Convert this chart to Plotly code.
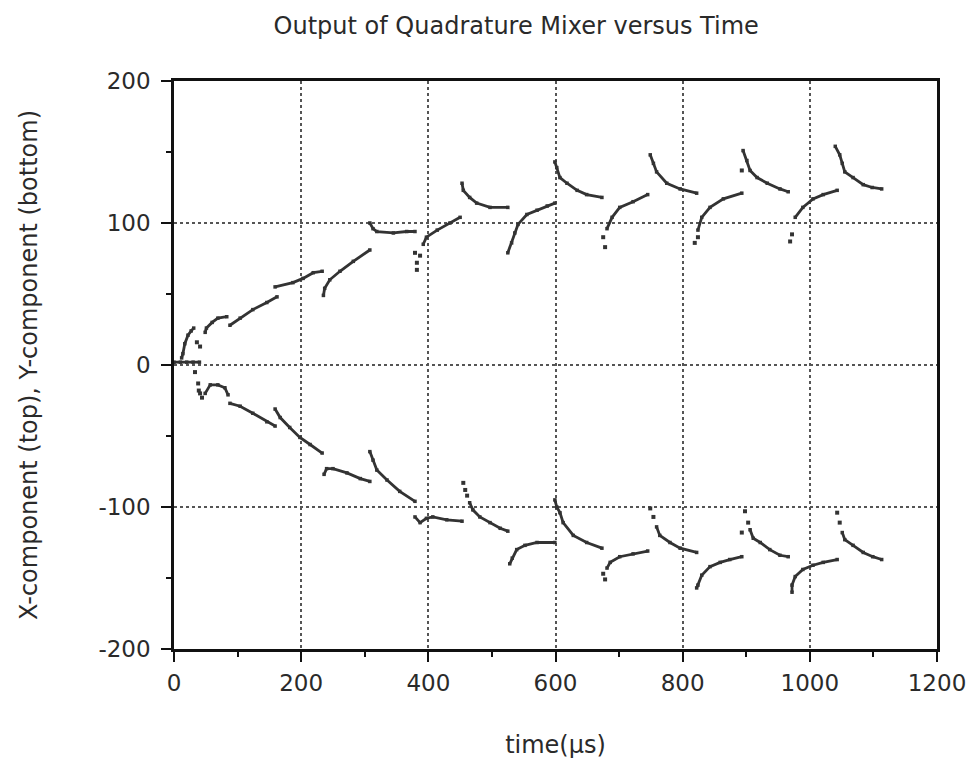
import plotly.graph_objects as go

# ---- data (time in microseconds, component value) ----
# X-component (top) continuous segments
upper_segments = [
    [[0, 10, 20, 30, 40], [2, 2, 2, 2, 2]],
    [[12, 14, 17, 22, 27, 31], [5, 8, 15, 21, 24, 26]],
    [[49, 51, 60, 69, 83], [23, 26, 30, 33, 34]],
    [[88, 104, 124, 146, 162], [28, 33, 39, 44, 48]],
    [[159, 187, 203, 219, 233], [55, 58, 61, 65, 66]],
    [[235, 237, 245, 261, 282, 308], [49, 54, 60, 66, 73, 81]],
    [[308, 313, 319, 345, 366, 379], [100, 96, 94, 93, 94, 94]],
    [[392, 397, 414, 434, 450], [85, 90, 95, 100, 104]],
    [[453, 455, 465, 476, 497, 525], [128, 123, 118, 114, 111, 111]],
    [[525, 531, 536, 541, 555, 571, 587, 599], [79, 86, 93, 99, 106, 109, 112, 114]],
    [[599, 602, 607, 618, 634, 649, 673], [143, 139, 132, 128, 123, 120, 118]],
    [[681, 689, 701, 722, 745], [96, 104, 111, 115, 120]],
    [[749, 754, 759, 775, 796, 822], [148, 142, 136, 128, 124, 121]],
    [[824, 830, 843, 864, 893], [95, 104, 111, 117, 121]],
    [[895, 901, 906, 917, 933, 953, 966], [151, 144, 137, 132, 128, 124, 122]],
    [[977, 989, 1005, 1021, 1043], [104, 111, 117, 120, 123]],
    [[1040, 1047, 1051, 1055, 1068, 1084, 1098, 1113], [154, 148, 142, 136, 132, 127, 125, 124]],
]
# X-component isolated samples
upper_dots_x = [36, 41, 379, 382, 382, 387, 675, 678, 819, 824, 893, 969, 972]
upper_dots_y = [16, 13, 79, 72, 67, 77, 90, 83, 86, 90, 137, 87, 92]

# Y-component (bottom) continuous segments
lower_segments = [
    [[49, 57, 69, 80, 85], [-20, -14, -14, -16, -21]],
    [[88, 104, 124, 146, 159], [-27, -29, -34, -40, -43]],
    [[159, 167, 182, 198, 214, 233], [-31, -37, -44, -51, -56, -62]],
    [[236, 240, 250, 272, 293, 308], [-77, -73, -73, -76, -80, -82]],
    [[308, 313, 319, 335, 355, 379], [-61, -67, -74, -81, -89, -96]],
    [[379, 387, 397, 407, 429, 453], [-107, -111, -108, -107, -109, -110]],
    [[465, 470, 481, 497, 513, 525], [-97, -102, -107, -111, -115, -117]],
    [[528, 532, 539, 552, 571, 599], [-140, -136, -130, -127, -125, -125]],
    [[599, 602, 607, 612, 628, 649, 673], [-95, -100, -104, -111, -120, -125, -129]],
    [[681, 686, 701, 722, 745], [-143, -139, -135, -133, -131]],
    [[759, 764, 780, 796, 822], [-114, -120, -125, -129, -132]],
    [[822, 824, 830, 843, 859, 874, 893], [-157, -155, -148, -142, -139, -137, -135]],
    [[906, 911, 922, 937, 953, 966], [-116, -122, -125, -130, -134, -135]],
    [[972, 972, 977, 989, 1005, 1021, 1043], [-160, -155, -149, -144, -141, -139, -137]],
    [[1051, 1055, 1068, 1084, 1099, 1113], [-118, -123, -127, -132, -135, -137]],
]
# Y-component isolated samples
lower_dots_x = [33, 38, 39, 41, 44, 455, 458, 461, 675, 678, 749, 754, 898, 903, 893, 1043, 1047]
lower_dots_y = [-5, -13, -18, -20, -23, -83, -88, -92, -147, -151, -101, -107, -103, -111, -118, -104, -111]

x_ticks = [0, 200, 400, 600, 800, 1000, 1200]
y_ticks = [-200, -100, 0, 100, 200]

INK = "#333333"
TEXT = "#2a2a2a"


def join(segments):
    xs, ys = [], []
    for sx, sy in segments:
        xs += list(sx) + [None]
        ys += list(sy) + [None]
    return xs, ys


fig = go.Figure()
for name, segs, dx, dy in [
    ("X-component", upper_segments, upper_dots_x, upper_dots_y),
    ("Y-component", lower_segments, lower_dots_x, lower_dots_y),
]:
    sx, sy = join(segs)
    fig.add_trace(go.Scatter(
        x=sx, y=sy, mode="lines+markers", name=name,
        line=dict(color=INK, width=2.8),
        marker=dict(color=INK, size=3.5, symbol="square"),
        showlegend=False, connectgaps=False,
    ))
    fig.add_trace(go.Scatter(
        x=dx, y=dy, mode="markers", name=name + " samples",
        marker=dict(color=INK, size=4, symbol="square"),
        showlegend=False,
    ))

font = "DejaVu Sans"
fig.update_layout(
    width=974, height=762,
    margin=dict(l=174, r=37, t=81, b=113),
    paper_bgcolor="white", plot_bgcolor="white",
    font=dict(family=font, size=22, color=TEXT),
    title=dict(text="Output of Quadrature Mixer versus Time",
               x=0.53, xanchor="center", y=0.966, yanchor="middle",
               font=dict(family=font, size=24, color=TEXT)),
)
fig.update_xaxes(
    range=[0, 1200], tickvals=x_ticks, ticktext=[str(v) for v in x_ticks],
    automargin=False,
    showline=True, linecolor="#111111", linewidth=2.5, mirror=True,
    showgrid=True, gridcolor="#555555", gridwidth=1.5, griddash="dot",
    zeroline=False,
    ticks="outside", ticklen=10, tickwidth=1.8, tickcolor="#111111",
    ticklabelstandoff=2,
    minor=dict(dtick=100, ticks="outside", ticklen=5, tickwidth=1.8,
               tickcolor="#111111", showgrid=False),
    title=dict(text="time(µs)", standoff=41, font=dict(size=24)),
    tickfont=dict(size=23),
)
fig.update_yaxes(
    range=[-200, 200], tickvals=y_ticks, ticktext=[str(v) for v in y_ticks],
    automargin=False,
    showline=True, linecolor="#111111", linewidth=2.5, mirror=True,
    showgrid=True, gridcolor="#555555", gridwidth=1.5, griddash="dot",
    zeroline=False,
    ticks="outside", ticklen=10, tickwidth=1.8, tickcolor="#111111",
    ticklabelstandoff=6,
    minor=dict(dtick=50, ticks="outside", ticklen=5, tickwidth=1.8,
               tickcolor="#111111", showgrid=False),
    title=dict(text="X-component (top), Y-component (bottom)", standoff=55,
               font=dict(size=24)),
    tickfont=dict(size=23),
)

fig.write_html("out.html")
